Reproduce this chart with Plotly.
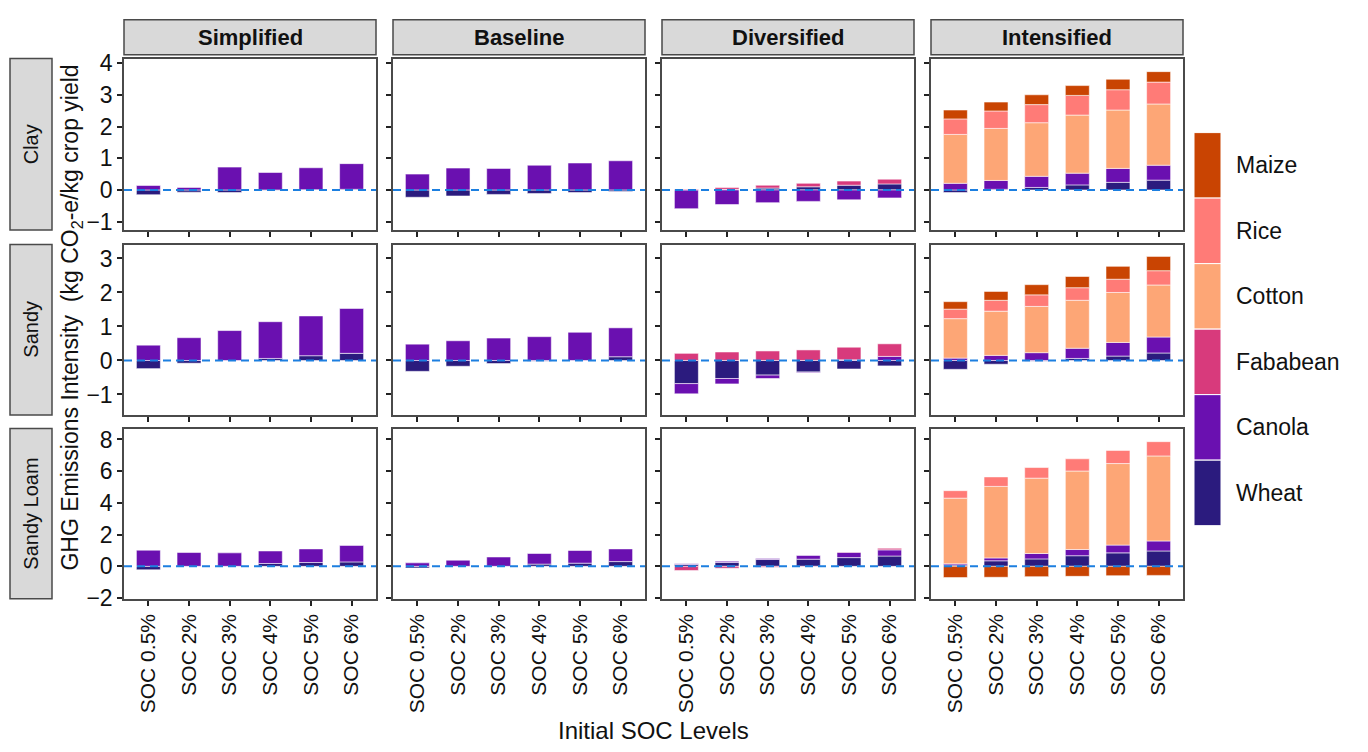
import plotly.graph_objects as go
from plotly.subplots import make_subplots

# ---- data -------------------------------------------------------------
soc_levels = ["SOC 0.5%", "SOC 2%", "SOC 3%", "SOC 4%", "SOC 5%", "SOC 6%"]
systems = ["Simplified", "Baseline", "Diversified", "Intensified"]
soils = ["Clay", "Sandy", "Sandy Loam"]
crops = ["Wheat", "Canola", "Fababean", "Cotton", "Rice", "Maize"]
crop_colors = ["#2B1B7E", "#6A10B0", "#D83A7C", "#FDA676", "#FF7B77", "#C94402"]

# Clay
clay_simplified = {"Wheat": [-0.15, -0.07, -0.08, -0.01, 0.01, 0.02],
                   "Canola": [0.14, 0.08, 0.72, 0.55, 0.69, 0.81]}
clay_baseline = {"Wheat": [-0.23, -0.19, -0.14, -0.11, -0.08, -0.05],
                 "Canola": [0.50, 0.69, 0.68, 0.78, 0.85, 0.92]}
clay_diversified = {"Wheat": [0.00, 0.02, 0.06, 0.10, 0.15, 0.19],
                    "Canola": [-0.59, -0.46, -0.40, -0.36, -0.31, -0.25],
                    "Fababean": [0.02, 0.06, 0.09, 0.11, 0.13, 0.15]}
clay_intensified = {"Wheat": [-0.08, 0.02, 0.08, 0.16, 0.24, 0.31],
                    "Canola": [0.21, 0.28, 0.35, 0.37, 0.44, 0.47],
                    "Cotton": [1.54, 1.64, 1.69, 1.83, 1.84, 1.93],
                    "Rice": [0.49, 0.55, 0.57, 0.62, 0.64, 0.69],
                    "Maize": [0.28, 0.28, 0.31, 0.31, 0.33, 0.33]}

# Sandy
sandy_simplified = {"Wheat": [-0.24, -0.08, 0.00, 0.06, 0.14, 0.21],
                    "Canola": [0.45, 0.67, 0.88, 1.08, 1.17, 1.32]}
sandy_baseline = {"Wheat": [-0.32, -0.17, -0.09, -0.02, 0.00, 0.11],
                  "Canola": [0.48, 0.58, 0.66, 0.70, 0.83, 0.85]}
sandy_diversified = {"Wheat": [-0.68, -0.53, -0.43, -0.34, -0.25, -0.16],
                     "Canola": [-0.30, -0.16, -0.10, -0.02, 0.02, 0.12],
                     "Fababean": [0.21, 0.25, 0.28, 0.31, 0.37, 0.37]}
sandy_intensified = {"Wheat": [-0.26, -0.11, -0.02, 0.06, 0.13, 0.22],
                     "Canola": [0.07, 0.15, 0.23, 0.30, 0.40, 0.47],
                     "Cotton": [1.16, 1.30, 1.36, 1.41, 1.47, 1.53],
                     "Rice": [0.28, 0.32, 0.34, 0.37, 0.39, 0.42],
                     "Maize": [0.22, 0.26, 0.30, 0.33, 0.38, 0.42]}

# Sandy Loam
loam_simplified = {"Wheat": [-0.22, 0.00, 0.00, 0.18, 0.24, 0.28],
                   "Canola": [1.02, 0.87, 0.85, 0.79, 0.86, 1.04]}
loam_baseline = {"Wheat": [-0.10, 0.00, 0.00, 0.14, 0.20, 0.30],
                 "Canola": [0.22, 0.39, 0.59, 0.67, 0.80, 0.80]}
loam_diversified = {"Wheat": [0.12, 0.24, 0.43, 0.45, 0.55, 0.65],
                    "Canola": [0.04, 0.08, 0.06, 0.24, 0.34, 0.39],
                    "Fababean": [-0.26, -0.12, -0.06, -0.03, 0.02, 0.10]}
loam_intensified = {"Wheat": [0.08, 0.35, 0.47, 0.67, 0.85, 0.97],
                    "Canola": [0.08, 0.18, 0.34, 0.39, 0.49, 0.63],
                    "Cotton": [4.14, 4.51, 4.75, 4.95, 5.14, 5.36],
                    "Rice": [0.47, 0.60, 0.67, 0.77, 0.83, 0.90],
                    "Maize": [-0.71, -0.69, -0.65, -0.63, -0.59, -0.57]}

panels = [
    [clay_simplified, clay_baseline, clay_diversified, clay_intensified],
    [sandy_simplified, sandy_baseline, sandy_diversified, sandy_intensified],
    [loam_simplified, loam_baseline, loam_diversified, loam_intensified],
]
row_ranges = [[-1.26, 4.14], [-1.60, 3.41], [-2.05, 8.69]]
row_ticks = [[-1, 0, 1, 2, 3, 4], [-1, 0, 1, 2, 3], [-2, 0, 2, 4, 6, 8]]

# ---- layout geometry (pixels) ----------------------------------------
W, H = 1368, 752
col_px = [(124 + i * 269, 124 + i * 269 + 252) for i in range(4)]
row_px = [(52, 228), (243, 418), (432, 607)]
FONT = "Arial, Liberation Sans, sans-serif"
BORDER = "#4a4a4a"


def px(x):
    return x / W


def py(y):
    return 1 - y / H


fig = make_subplots(rows=3, cols=4)

color_of = dict(zip(crops, crop_colors))
for r in range(3):
    for c in range(4):
        data = panels[r][c]
        for crop in crops:
            if crop not in data:
                continue
            fig.add_trace(
                go.Bar(x=soc_levels, y=data[crop], name=crop,
                       marker=dict(color=color_of[crop],
                                   line=dict(color="rgba(255,255,255,0.55)", width=1)),
                       showlegend=False),
                row=r + 1, col=c + 1)

shapes = []
annotations = []
for r in range(3):
    for c in range(4):
        n = r * 4 + c + 1
        sfx = "" if n == 1 else str(n)
        x0, x1 = col_px[c]
        y0, y1 = row_px[r]
        fig.layout["xaxis" + sfx].update(
            domain=[px(x0), px(x1)], range=[-0.6, 5.6],
            showline=True, mirror=True, linecolor=BORDER, linewidth=1.5,
            ticks="outside", ticklen=5, tickwidth=1.5, tickcolor="#222",
            showticklabels=(r == 2), tickangle=-90,
            tickfont=dict(family=FONT, size=21, color="#111"),
            showgrid=False, zeroline=False, fixedrange=True)
        fig.layout["yaxis" + sfx].update(
            domain=[py(y1), py(y0)], range=row_ranges[r],
            tickvals=row_ticks[r],
            showline=True, mirror=True, linecolor=BORDER, linewidth=1.5,
            ticks="outside", ticklen=5, tickwidth=1.5, tickcolor="#222",
            showticklabels=(c == 0),
            tickfont=dict(family=FONT, size=23, color="#111"),
            showgrid=False, zeroline=False, fixedrange=True)
        # dashed reference line at zero
        shapes.append(dict(type="line", xref="x%s domain" % sfx, yref="y" + sfx,
                           x0=0, x1=1, y0=0, y1=0, layer="above",
                           line=dict(color="#1C7FE0", width=2, dash="8px,5px")))

# column strips
for c, name in enumerate(systems):
    x0, x1 = col_px[c]
    shapes.append(dict(type="rect", xref="paper", yref="paper",
                       x0=px(x0), x1=px(x1), y0=py(48), y1=py(12),
                       fillcolor="#D9D9D9", line=dict(color=BORDER, width=1.5)))
    annotations.append(dict(text="<b>%s</b>" % name, xref="paper", yref="paper",
                            x=px((x0 + x1) / 2), y=py(30), showarrow=False,
                            font=dict(family=FONT, size=22, color="#111"),
                            xanchor="center", yanchor="middle"))

# row strips
for r, name in enumerate(soils):
    y0, y1 = row_px[r]
    shapes.append(dict(type="rect", xref="paper", yref="paper",
                       x0=px(10), x1=px(52), y0=py(y1), y1=py(y0),
                       fillcolor="#D9D9D9", line=dict(color=BORDER, width=1.5)))
    annotations.append(dict(text=name, xref="paper", yref="paper",
                            x=px(31), y=py((y0 + y1) / 2), showarrow=False,
                            textangle=-90,
                            font=dict(family=FONT, size=20, color="#111"),
                            xanchor="center", yanchor="middle"))

# axis titles
annotations.append(dict(text="GHG Emissions Intensity  (kg CO<sub>2</sub>-e/kg crop yield",
                        xref="paper", yref="paper", x=px(72), y=py(318),
                        showarrow=False, textangle=-90,
                        font=dict(family=FONT, size=23, color="#111"),
                        xanchor="center", yanchor="middle"))
annotations.append(dict(text="Initial SOC Levels", xref="paper", yref="paper",
                        x=px(653), y=0, yshift=-6, showarrow=False,
                        font=dict(family=FONT, size=24, color="#111"),
                        xanchor="center", yanchor="bottom"))

# legend: colour keys stacked top (Maize) to bottom (Wheat)
key_top, key_h = 128, 67.3
for i, crop in enumerate(reversed(crops)):
    ya = key_top + i * key_h
    shapes.append(dict(type="rect", xref="paper", yref="paper",
                       x0=px(1194), x1=px(1221), y0=py(ya + key_h), y1=py(ya),
                       fillcolor=color_of[crop], line=dict(color="white", width=1)))
    annotations.append(dict(text=crop, xref="paper", yref="paper",
                            x=px(1234), y=py(ya + key_h / 2), showarrow=False,
                            font=dict(family=FONT, size=23, color="#111"),
                            xanchor="left", yanchor="middle"))

fig.update_layout(
    width=W, height=H, autosize=False,
    margin=dict(l=0, r=0, t=0, b=0),
    barmode="relative", bargap=0.41,
    plot_bgcolor="white", paper_bgcolor="white",
    shapes=shapes, annotations=annotations,
    showlegend=False,
    font=dict(family=FONT, color="#111"),
)

fig.write_html("out.html")
